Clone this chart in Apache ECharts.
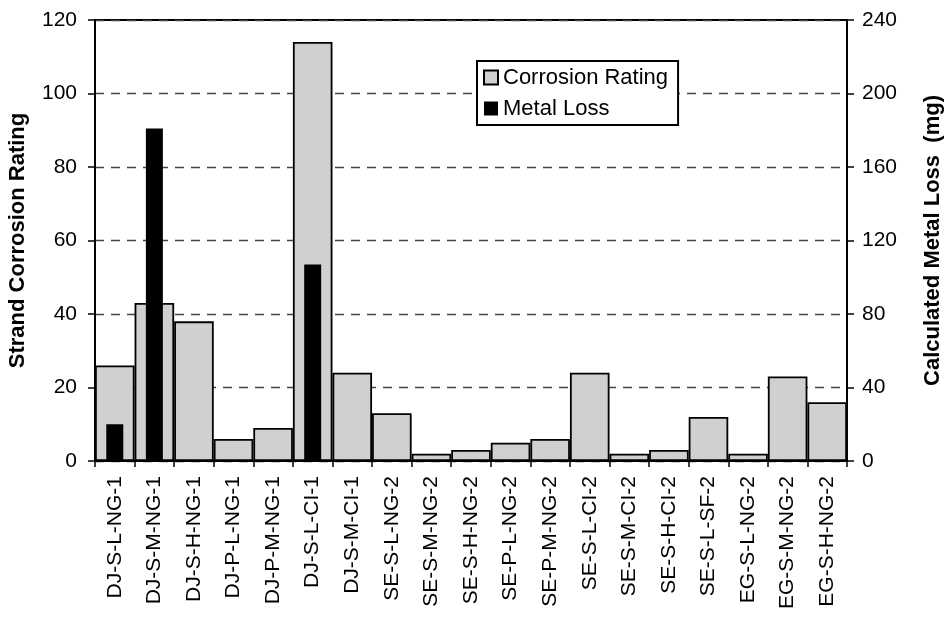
<!DOCTYPE html>
<html>
<head>
<meta charset="utf-8">
<script src="https://cdn.jsdelivr.net/npm/echarts@6/dist/echarts.min.js"></script>
<style>html,body{margin:0;padding:0;background:#fff}#c{width:944px;height:623px}</style>
</head>
<body>
<div id="c"></div>
<script>
var categories = ["DJ-S-L-NG-1","DJ-S-M-NG-1","DJ-S-H-NG-1","DJ-P-L-NG-1","DJ-P-M-NG-1","DJ-S-L-CI-1","DJ-S-M-CI-1","SE-S-L-NG-2","SE-S-M-NG-2","SE-S-H-NG-2","SE-P-L-NG-2","SE-P-M-NG-2","SE-S-L-CI-2","SE-S-M-CI-2","SE-S-H-CI-2","SE-S-L-SF-2","EG-S-L-NG-2","EG-S-M-NG-2","EG-S-H-NG-2"];
var corrosionRating = [26,43,38,6,9,114,24,13,2,3,5,6,24,2,3,12,2,23,16];
var metalLoss = [20,181,0,0,0,107,0,0,0,0,0,0,0,0,0,0,0,0,0];
var leftTicks = [0,120,20];
var rightTicks = [0,240,40];

var FONT = "Liberation Sans";
var chart = echarts.init(document.getElementById('c'), null, {renderer:'canvas'});
chart.setOption({
  animation:false,
  backgroundColor:'#fff',
  textStyle:{fontFamily:FONT},
  grid:{left:95,right:97,top:20,bottom:162,show:true,borderColor:'#000',borderWidth:2,backgroundColor:'transparent',outerBoundsMode:'none'},
  legend:{
    left:477, top:61, orient:'vertical',
    data:['Corrosion Rating','Metal Loss'],
    backgroundColor:'#fff', borderColor:'#000', borderWidth:2,
    padding:[3,10,3,6], itemGap:4, itemWidth:14, itemHeight:14,
    icon:'rect',
    textStyle:{fontFamily:FONT,fontSize:22,color:'#000',lineHeight:27}
  },
  xAxis:[{
    type:'category', data:categories, boundaryGap:true,
    axisLine:{lineStyle:{color:'#000',width:2}},
    axisTick:{show:true,length:6,lineStyle:{color:'#000',width:1.5}},
    axisLabel:{rotate:90,interval:0,margin:15,fontSize:21,color:'#000',fontFamily:FONT},
    splitLine:{show:false}
  },{
    type:'category', data:categories, show:false
  }],
  yAxis:[{
    type:'value', min:leftTicks[0], max:leftTicks[1], interval:leftTicks[2], position:'left',
    name:'Strand Corrosion Rating', nameLocation:'middle', nameRotate:90, nameGap:66,
    nameTextStyle:{fontFamily:FONT,fontSize:22,fontWeight:'bold',color:'#000'},
    axisLine:{show:true,lineStyle:{color:'#000',width:2}},
    axisTick:{show:true,length:7,lineStyle:{color:'#000',width:1.5}},
    axisLabel:{margin:18,fontSize:21,color:'#000',fontFamily:FONT},
    splitLine:{show:true,lineStyle:{color:'#444',width:1.3,type:[9,7]}}
  },{
    type:'value', min:rightTicks[0], max:rightTicks[1], interval:rightTicks[2], position:'right',
    name:'Calculated Metal Loss  (mg)', nameLocation:'middle', nameRotate:90, nameGap:75,
    nameTextStyle:{fontFamily:FONT,fontSize:22,fontWeight:'bold',color:'#000'},
    axisLine:{show:true,lineStyle:{color:'#000',width:2}},
    axisTick:{show:true,length:7,lineStyle:{color:'#000',width:1.5}},
    axisLabel:{margin:15,fontSize:21,color:'#000',fontFamily:FONT},
    splitLine:{show:false}
  }],
  series:[{
    name:'Corrosion Rating', type:'bar', xAxisIndex:0, yAxisIndex:0,
    data:corrosionRating, barWidth:'100%',
    itemStyle:{color:'#d0d0d0',borderColor:'#000',borderWidth:1.8}
  },{
    name:'Metal Loss', type:'bar', xAxisIndex:1, yAxisIndex:1,
    data:metalLoss, barWidth:17,
    itemStyle:{color:'#000',borderColor:'#000',borderWidth:0}
  }]
});
</script>
</body>
</html>
